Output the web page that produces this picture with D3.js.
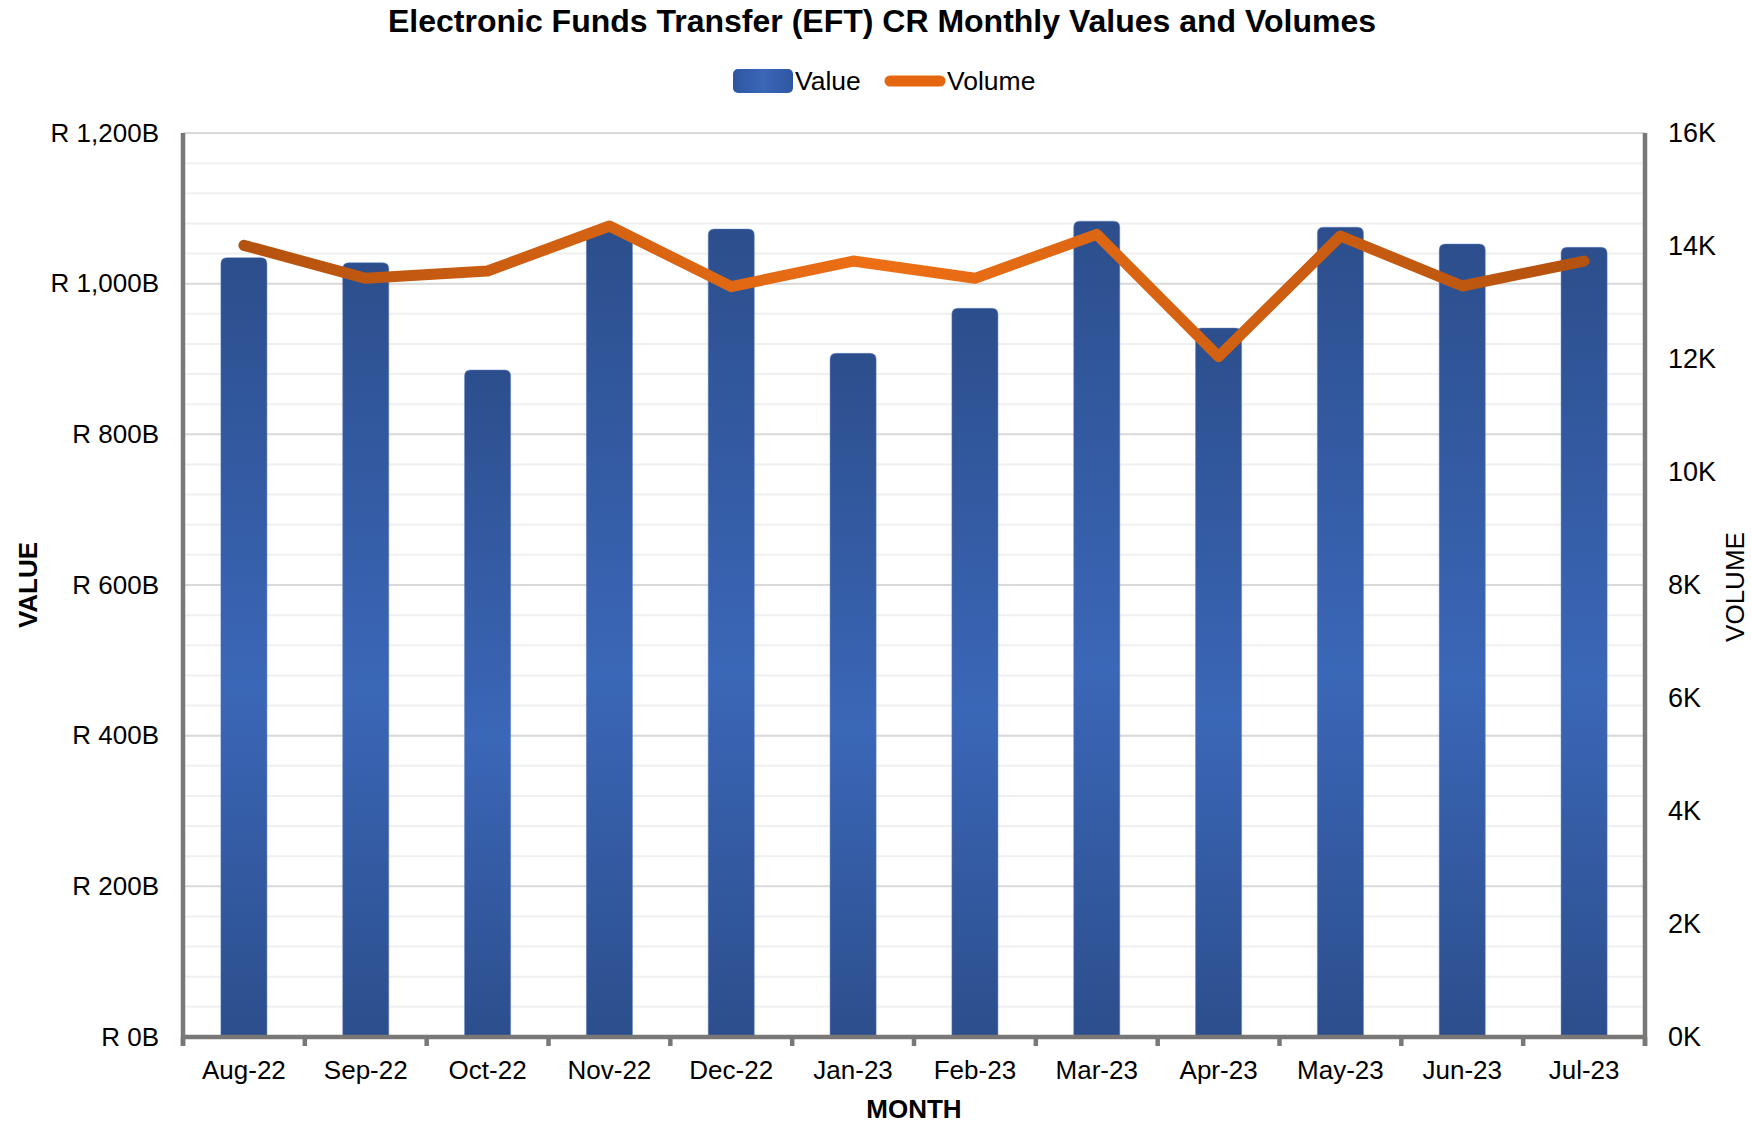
<!DOCTYPE html>
<html><head><meta charset="utf-8">
<script src="https://cdn.jsdelivr.net/npm/d3@7"></script>
<style>
body{margin:0;background:#fff}
svg{display:block}
text{font-family:"Liberation Sans",Arial,sans-serif;fill:#000}
</style>
</head><body>
<svg id="c" width="1751" height="1123"></svg>
<script>
const months = ["Aug-22","Sep-22","Oct-22","Nov-22","Dec-22","Jan-23","Feb-23","Mar-23","Apr-23","May-23","Jun-23","Jul-23"];
const values = [1034.5, 1027.8, 885.4, 1069, 1072.5, 907.5, 967.3, 1083, 941, 1075, 1052.6, 1048.2];
const volumes = [14012, 13428, 13557, 14354, 13280, 13734, 13428, 14207, 12041, 14177, 13292, 13734];
const valueTicks = [0, 200, 400, 600, 800, 1000, 1200];
const valueTickLabels = ["R 0B","R 200B","R 400B","R 600B","R 800B","R 1,000B","R 1,200B"];
const volumeTicks = [0, 2000, 4000, 6000, 8000, 10000, 12000, 14000, 16000];
const volumeTickLabels = ["0K","2K","4K","6K","8K","10K","12K","14K","16K"];

const svg = d3.select("#c");
const L = 183, R = 1645, T = 133, B = 1037;
const axisColor = "#7a7777";

const defs = svg.append("defs");
const bg = defs.append("linearGradient").attr("id","barGrad").attr("x1",0).attr("x2",0).attr("y1",0).attr("y2",1);
bg.append("stop").attr("offset","0%").attr("stop-color","#2c4e8c");
bg.append("stop").attr("offset","55%").attr("stop-color","#3b67b8");
bg.append("stop").attr("offset","100%").attr("stop-color","#2c4e8c");
const lg = defs.append("linearGradient").attr("id","legBar").attr("x1",0).attr("x2",1).attr("y1",0).attr("y2",0);
lg.append("stop").attr("offset","0%").attr("stop-color","#2f56a0");
lg.append("stop").attr("offset","50%").attr("stop-color","#3b67b8");
lg.append("stop").attr("offset","100%").attr("stop-color","#2f56a0");

const x = d3.scaleBand().domain(months).range([L, R]).paddingInner(0.622).paddingOuter(0.311);
const yL = d3.scaleLinear().domain([0, 1200]).range([B, T]);
const yR = d3.scaleLinear().domain([0, 16000]).range([B, T]);

// gridlines
const minor = d3.range(0, 1201, 40).filter(v => v % 200 !== 0);
svg.append("g").selectAll("line").data(minor).join("line")
  .attr("x1", L).attr("x2", R).attr("y1", d => yL(d)).attr("y2", d => yL(d))
  .attr("stroke", "#f0f0f0").attr("stroke-width", 2);
svg.append("g").selectAll("line").data(valueTicks.filter(v => v > 0)).join("line")
  .attr("x1", L).attr("x2", R).attr("y1", d => yL(d)).attr("y2", d => yL(d))
  .attr("stroke", "#d9d9d9").attr("stroke-width", 2);

// bars
const r = 6;
svg.append("g").selectAll("path").data(months).join("path")
  .attr("d", (m, i) => {
    const x0 = x(m), w = x.bandwidth(), y0 = yL(values[i]), y1 = yL(0);
    return `M${x0},${y1} L${x0},${y0 + r} Q${x0},${y0} ${x0 + r},${y0} L${x0 + w - r},${y0} Q${x0 + w},${y0} ${x0 + w},${y0 + r} L${x0 + w},${y1} Z`;
  })
  .attr("fill", "url(#barGrad)")
  .attr("stroke", "#5a7fc2").attr("stroke-width", 0.8).attr("stroke-opacity", 0.6);

// line
const cx = m => x(m) + x.bandwidth() / 2;
const og = defs.append("linearGradient").attr("id","lineGrad").attr("gradientUnits","userSpaceOnUse")
  .attr("x1", cx(months[0])).attr("x2", cx(months[months.length - 1])).attr("y1", 0).attr("y2", 0);
og.append("stop").attr("offset","0%").attr("stop-color","#b4520f");
og.append("stop").attr("offset","48%").attr("stop-color","#ee6f15");
og.append("stop").attr("offset","100%").attr("stop-color","#b4520f");
const line = d3.line().x((d, i) => cx(months[i])).y(d => yR(d));
svg.append("path").datum(volumes).attr("d", line)
  .attr("fill", "none").attr("stroke", "url(#lineGrad)").attr("stroke-width", 11)
  .attr("stroke-linejoin", "round").attr("stroke-linecap", "round");

// axes lines
const ax = svg.append("g").attr("stroke", axisColor).attr("stroke-width", 4.5);
ax.append("line").attr("x1", L).attr("x2", L).attr("y1", T).attr("y2", B + 9);
ax.append("line").attr("x1", R).attr("x2", R).attr("y1", T).attr("y2", B + 9);
ax.append("line").attr("x1", L).attr("x2", R).attr("y1", B).attr("y2", B);
ax.selectAll(".tk").data(d3.range(0, months.length + 1)).join("line")
  .attr("x1", i => L + i * x.step()).attr("x2", i => L + i * x.step())
  .attr("y1", B).attr("y2", B + 9);

// left axis labels
const gl = svg.append("g").attr("transform", `translate(${L},0)`)
  .call(d3.axisLeft(yL).tickValues(valueTicks).tickFormat((d, i) => valueTickLabels[i]).tickSize(0).tickPadding(24));
gl.select(".domain").remove();
gl.selectAll("text").attr("font-size", 26).attr("font-family", "Liberation Sans, Arial, sans-serif").attr("fill", "#000");

// right axis labels
const gr = svg.append("g").attr("transform", `translate(${R},0)`)
  .call(d3.axisRight(yR).tickValues(volumeTicks).tickFormat((d, i) => volumeTickLabels[i]).tickSize(0).tickPadding(23));
gr.select(".domain").remove();
gr.selectAll("text").attr("font-size", 27).attr("font-family", "Liberation Sans, Arial, sans-serif").attr("fill", "#000");

// bottom axis labels
const gb = svg.append("g").attr("transform", `translate(0,${B})`)
  .call(d3.axisBottom(x).tickSize(0).tickPadding(0));
gb.select(".domain").remove();
gb.selectAll("text").attr("font-size", 26).attr("font-family", "Liberation Sans, Arial, sans-serif").attr("fill", "#000")
  .attr("dy", null).attr("y", 42);

// titles
svg.append("text").attr("x", 882).attr("y", 32).attr("text-anchor", "middle")
  .attr("font-size", 32).attr("font-weight", "bold").text("Electronic Funds Transfer (EFT) CR Monthly Values and Volumes");
svg.append("text").attr("x", (L + R) / 2).attr("y", 1118).attr("text-anchor", "middle")
  .attr("font-size", 26).attr("font-weight", "bold").text("MONTH");
svg.append("text").attr("transform", `translate(37,${(T + B) / 2}) rotate(-90)`).attr("text-anchor", "middle")
  .attr("font-size", 26).attr("font-weight", "bold").text("VALUE");
svg.append("text").attr("transform", `translate(1744,${(T + B) / 2 + 2}) rotate(-90)`).attr("text-anchor", "middle")
  .attr("font-size", 26).text("VOLUME");

// legend
const leg = svg.append("g");
leg.append("rect").attr("x", 733).attr("y", 69).attr("width", 60).attr("height", 24).attr("rx", 5)
  .attr("fill", "url(#legBar)");
leg.append("text").attr("x", 795).attr("y", 90).attr("font-size", 26.5).text("Value");
leg.append("line").attr("x1", 890).attr("x2", 940).attr("y1", 81).attr("y2", 81)
  .attr("stroke", "#e4670f").attr("stroke-width", 11).attr("stroke-linecap", "round");
leg.append("text").attr("x", 947).attr("y", 90).attr("font-size", 26.5).text("Volume");
</script>
</body></html>
